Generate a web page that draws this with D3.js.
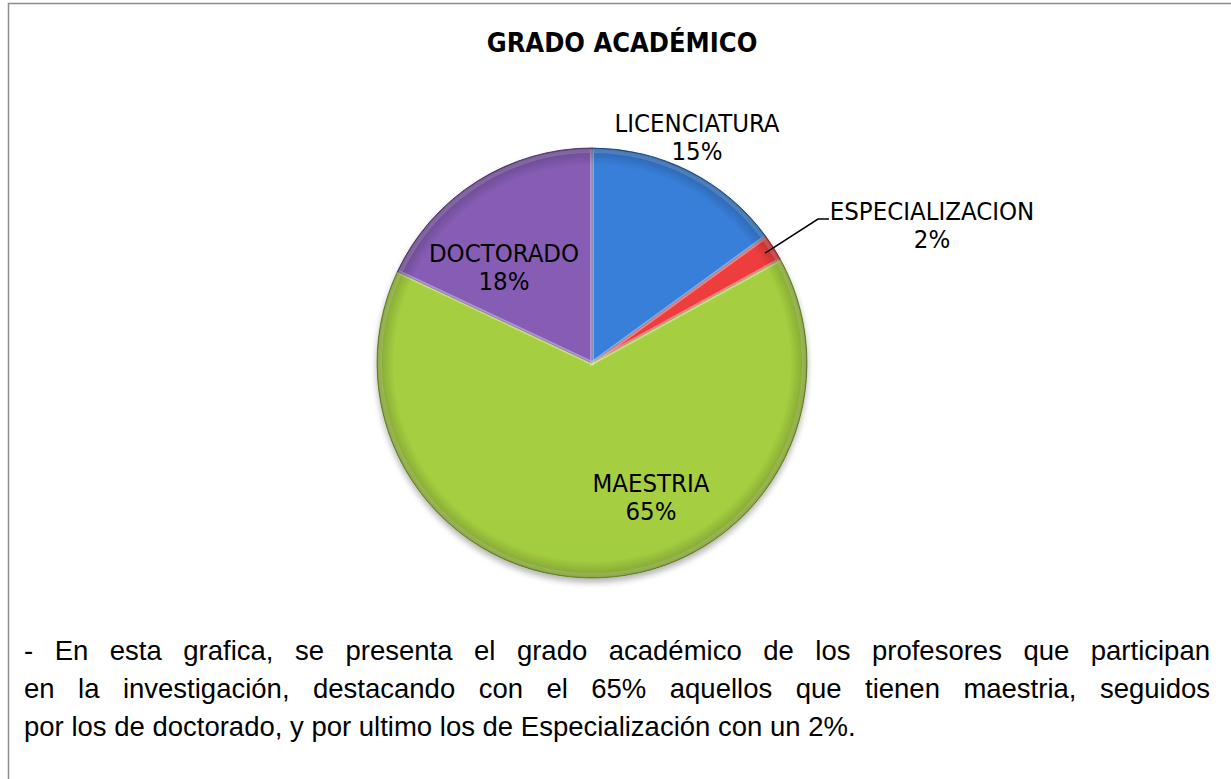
<!DOCTYPE html>
<html>
<head>
<meta charset="utf-8">
<script src="https://cdn.jsdelivr.net/npm/d3@7"></script>
<style>
  body { margin: 0; background: #fff; }
</style>
</head>
<body>
<div id="chart"></div>
<script>
// Data
const categories = ["LICENCIATURA", "ESPECIALIZACION", "MAESTRIA", "DOCTORADO"];
const values = [15, 2, 65, 18];
const colors = ["#3578cf", "#e23b3a", "#9cc43e", "#7f57ac"];
const title = "GRADO ACADÉMICO";
const note = [
  "- En esta grafica, se presenta el grado académico de los profesores que participan",
  "en la investigación, destacando con el 65% aquellos que tienen maestria, seguidos",
  "por los de doctorado, y por ultimo los de Especialización con un 2%."
];

function chart(container) {
  const width = 1231;
  const height = 779;
  const cx = 592, cy = 363, radius = 215;
  const labelFont = "'DejaVu Sans Condensed', 'DejaVu Sans', sans-serif";

  const svg = d3.select(container).append("svg")
      .attr("width", width)
      .attr("height", height)
      .attr("viewBox", [0, 0, width, height]);

  const defs = svg.append("defs");

  // soft shadow under the pie
  const shadow = defs.append("filter").attr("id", "shadow")
      .attr("x", "-20%").attr("y", "-20%").attr("width", "140%").attr("height", "140%");
  shadow.append("feGaussianBlur").attr("in", "SourceAlpha").attr("stdDeviation", 3);
  shadow.append("feOffset").attr("dx", 0).attr("dy", 4).attr("result", "blur");
  shadow.append("feComponentTransfer").append("feFuncA").attr("type", "linear").attr("slope", 0.3);
  const merge = shadow.append("feMerge");
  merge.append("feMergeNode");
  merge.append("feMergeNode").attr("in", "SourceGraphic");

  // vertical gradient per slice, lighter at the top
  colors.forEach((c, i) => {
    const g = defs.append("linearGradient").attr("id", "grad" + i)
        .attr("gradientUnits", "userSpaceOnUse")
        .attr("x1", 0).attr("y1", cy - radius)
        .attr("x2", 0).attr("y2", cy + radius);
    g.append("stop").attr("offset", "0%").attr("stop-color", d3.color(c).brighter(0.15));
    g.append("stop").attr("offset", "50%").attr("stop-color", c);
    g.append("stop").attr("offset", "100%").attr("stop-color", d3.color(c).darker(0.4));
  });

  // rim darkening
  const rim = defs.append("radialGradient").attr("id", "rim")
      .attr("gradientUnits", "userSpaceOnUse")
      .attr("cx", cx).attr("cy", cy).attr("r", radius);
  rim.append("stop").attr("offset", "92%").attr("stop-color", "#000").attr("stop-opacity", 0);
  rim.append("stop").attr("offset", "100%").attr("stop-color", "#000").attr("stop-opacity", 0.22);

  // frame
  svg.append("rect")
      .attr("x", 8.5).attr("y", 3.5)
      .attr("width", width + 20).attr("height", height + 20)
      .attr("fill", "none")
      .attr("stroke", "#8c8c8c")
      .attr("stroke-width", 1.5);

  svg.append("text")
      .attr("x", 622).attr("y", 52)
      .attr("text-anchor", "middle")
      .attr("font-family", labelFont)
      .attr("font-weight", "bold")
      .attr("font-size", 27)
      .attr("fill", "#000")
      .text(title);

  const pie = d3.pie().sort(null).value(d => d);
  const arcs = pie(values);
  const arc = d3.arc().innerRadius(0).outerRadius(radius);

  const g = svg.append("g").attr("transform", `translate(${cx},${cy})`);

  g.append("g")
      .attr("filter", "url(#shadow)")
      .selectAll("path")
      .data(arcs)
      .join("path")
      .attr("d", arc)
      .attr("fill", (d, i) => `url(#grad${i})`)
      .attr("stroke", (d, i) => d3.color(colors[i]).darker(1))
      .attr("stroke-width", 1)
      .attr("stroke-linejoin", "round");

  // darker rim on top of the slices
  svg.append("circle")
      .attr("cx", cx).attr("cy", cy)
      .attr("r", radius)
      .attr("fill", "url(#rim)");

  // thin light highlight along the slice edges (bevel look)
  g.append("g")
      .selectAll("path")
      .data(arcs)
      .join("path")
      .attr("d", d3.arc().innerRadius(0).outerRadius(radius - 3))
      .attr("fill", "none")
      .attr("stroke", "#fff")
      .attr("stroke-opacity", 0.2)
      .attr("stroke-width", 4);

  // label positions (offsets from pie center, in pixels)
  const labelPos = [
    { x: 105, y: -231 },
    { x: 340, y: -143 },
    { x: 59, y: 129 },
    { x: -88, y: -101 }
  ];

  const labels = svg.append("g")
      .attr("font-family", labelFont)
      .attr("font-size", 25.5)
      .attr("fill", "#000")
      .attr("text-anchor", "middle");

  arcs.forEach((d, i) => {
    const t = labels.append("text")
        .attr("x", cx + labelPos[i].x)
        .attr("y", cy + labelPos[i].y);
    t.append("tspan").attr("x", cx + labelPos[i].x).text(categories[i]);
    t.append("tspan").attr("x", cx + labelPos[i].x).attr("dy", 28)
        .text(d3.format(".0%")(d.data / d3.sum(values)));
  });

  // leader line for the small slice
  const a = arcs[1];
  const mid = (a.startAngle + a.endAngle) / 2;
  const p0 = [cx + Math.sin(mid) * (radius - 10), cy - Math.cos(mid) * (radius - 10)];
  svg.append("polyline")
      .attr("points", [p0, [818, 219], [829, 219]].map(p => p.join(",")).join(" "))
      .attr("fill", "none")
      .attr("stroke", "#000")
      .attr("stroke-width", 1.5);

  // note under the chart, first lines justified like in the document
  const lineRight = 1210;
  const noteText = svg.append("g")
      .attr("font-family", "'Liberation Sans', Arial, sans-serif")
      .attr("font-size", 27.5)
      .attr("fill", "#000")
      .selectAll("text")
      .data(note)
      .join("text")
      .attr("x", 24)
      .attr("y", (d, i) => 660 + i * 38)
      .text(d => d);

  noteText.each(function (d, i) {
    if (i === note.length - 1) return;
    const natural = this.getComputedTextLength();
    const spaces = d.split(" ").length - 1;
    const extra = (lineRight - 24 - natural) / spaces;
    d3.select(this).attr("word-spacing", extra);
  });

  return svg.node();
}

chart(document.getElementById("chart"));
</script>
</body>
</html>
